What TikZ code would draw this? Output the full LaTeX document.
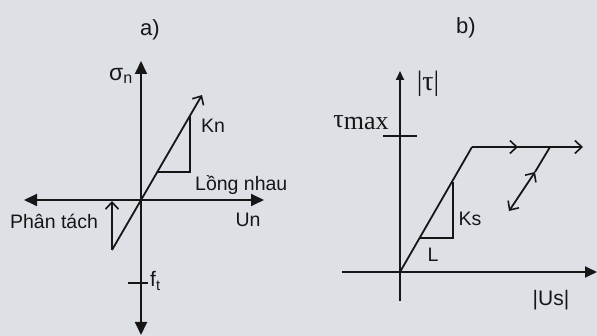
\documentclass[tikz,border=0pt]{standalone}
\usepackage{fontspec}
\setmainfont{Liberation Sans}
\newfontfamily\greekserif{Liberation Serif}
\usetikzlibrary{arrows.meta}
\definecolor{paperGray}{HTML}{DDE1E6}
\definecolor{inkDark}{HTML}{161616}

\begin{document}
\begin{tikzpicture}[x=1pt,y=-1pt,
    every node/.style={font=\fontsize{19.5}{22}\selectfont,text=inkDark,inner sep=0pt},
    axis/.style={line width=1.8pt,draw=inkDark},
    bigtip/.style={{Triangle[length=13pt,width=12pt]}-{Triangle[length=13pt,width=12pt]}},
    curve/.style={line width=1.8pt,draw=inkDark},
    thin/.style={line width=1.5pt,draw=inkDark},
    open/.style={-{Straight Barb[length=7pt,width=13pt,line width=1.6pt]}},
    tag/.style={font=\fontsize{22}{24}\selectfont}
  ]
  \fill[paperGray] (0,0) rectangle (597,336);
  \useasboundingbox (0,0) rectangle (597,336);

  %% a) normal direction
  \coordinate (Oa) at (141,200);
  \coordinate (aTop) at (141,61);
  \coordinate (aBot) at (141,335);
  \coordinate (aLeft) at (24,200);
  \coordinate (aRight) at (264,200);
  \coordinate (aLow) at (112,250);
  \coordinate (aUp) at (202,95);
  \coordinate (aSep) at (112,201);
  \coordinate (knA) at (157,172);
  \coordinate (knB) at (190,172);
  \coordinate (knC) at (190,116);
  \coordinate (ftL) at (128,283);
  \coordinate (ftR) at (148,283);
  \draw[axis,bigtip] (aBot) -- (aTop);
  \draw[axis,bigtip] (aLeft) -- (aRight);
  \draw[curve,open] (aLow) -- (aUp);
  \draw[curve,open] (aLow) -- (aSep);
  \draw[thin] (knA) -- (knB) -- (knC);
  \draw[thin] (ftL) -- (ftR);
  \node[tag] (labA) at (150,30) {a)};
  \node (sigN) at (121,76) {\fontsize{23}{25}\selectfont σ\textsubscript{n}};
  \node (kn) at (213,126) {Kn};
  \node[anchor=base west] (long) at (195,191) {Lồng nhau};
  \node (un) at (248,220) {Un};
  \node (sep) at (54,221) {Phân tách};
  \node[anchor=west] (ft) at (150,281) {\fontsize{21}{23}\selectfont f\textsubscript{t}};

  %% b) shear direction
  \coordinate (Ob) at (400,272);
  \coordinate (bTop) at (400,71);
  \coordinate (bBot) at (400,301);
  \coordinate (bLeft) at (342,272);
  \coordinate (bRight) at (597,272);
  \coordinate (bKnee) at (472,147);
  \coordinate (bMid) at (518,147);
  \coordinate (bEnd) at (583,147);
  \coordinate (unA) at (550,147);
  \coordinate (unB) at (535,172);
  \coordinate (unC) at (509,211);
  \coordinate (ksA) at (419,238);
  \coordinate (ksB) at (453,238);
  \coordinate (ksC) at (453,182);
  \coordinate (tmL) at (383,136);
  \coordinate (tmR) at (417,136);
  \draw[axis,-{Triangle[length=9pt,width=8pt]}] (bBot) -- (bTop);
  \draw[axis,-{Triangle[length=12pt,width=11pt]}] (bLeft) -- (bRight);
  \draw[thin] (tmL) -- (tmR);
  \draw[curve] (Ob) -- (bKnee);
  \draw[curve,open] (bKnee) -- (bMid);
  \draw[curve,open] (bKnee) -- (bEnd);
  \draw[curve] (unA) -- (unB);
  \draw[curve,{Straight Barb[length=7pt,width=13pt,line width=1.6pt]}-{Straight Barb[length=7pt,width=13pt,line width=1.6pt]}] (unB) -- (unC);
  \draw[thin] (ksA) -- (ksB) -- (ksC);
  \node[tag] (labB) at (466,28) {b)};
  \node (tau) at (428,84) {\greekserif\fontsize{28}{30}\selectfont |τ|};
  \node (tauMax) at (361,123) {\greekserif\fontsize{26}{28}\selectfont τ\raisebox{-2pt}{max}};
  \node (ks) at (470,219) {Ks};
  \node (ell) at (433,255) {L};
  \node (us) at (551,300) {\fontsize{21}{23}\selectfont |Us|};
\end{tikzpicture}
\end{document}
